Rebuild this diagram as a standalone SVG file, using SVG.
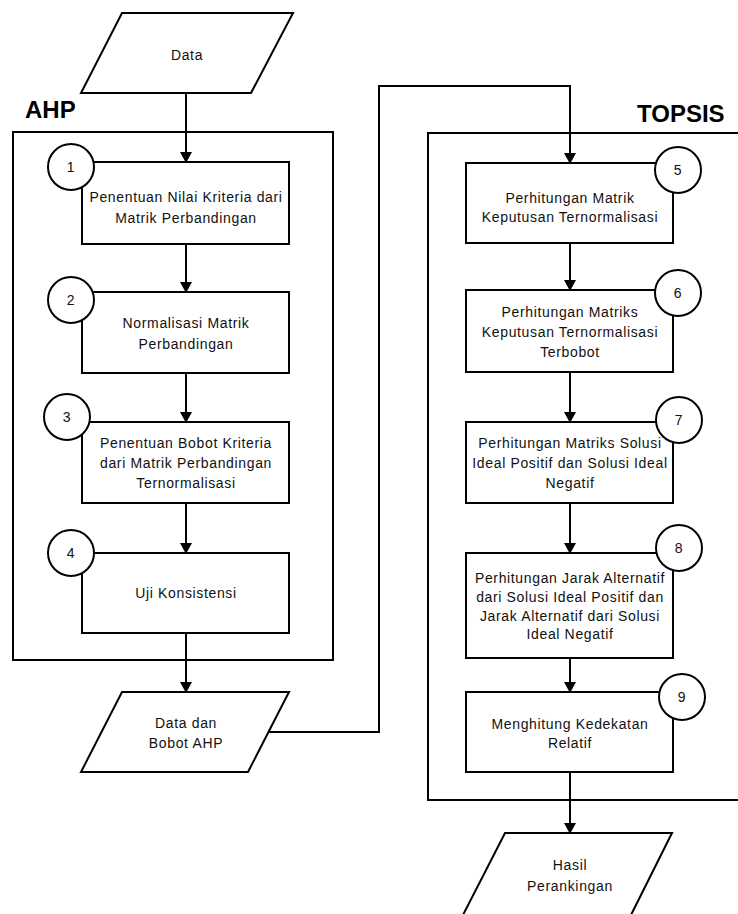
<svg xmlns="http://www.w3.org/2000/svg" width="738" height="914" viewBox="0 0 738 914">
<defs>
<marker id="arr" markerUnits="userSpaceOnUse" markerWidth="12" markerHeight="12" refX="10" refY="6" orient="auto">
<path d="M0,0 L11,6 L0,12 z" fill="#000"/>
</marker>
<style>
.s{fill:#fff;stroke:#000;stroke-width:2}
.f{fill:none;stroke:#000;stroke-width:2}
.c{fill:none;stroke:#000;stroke-width:2;marker-end:url(#arr)}
.t{font-family:"Liberation Sans",Arial,sans-serif;font-size:14px;fill:#111;text-anchor:middle;letter-spacing:0.65px}
.h{font-family:"Liberation Sans",Arial,sans-serif;font-size:24px;font-weight:bold;fill:#000}
</style>
</defs>
<rect width="738" height="914" fill="#fff"/>

<g id="ahp-group">
<rect class="f" x="13" y="132" width="320" height="528"/>
<text class="h" x="25" y="118">AHP</text>
</g>
<g id="topsis-group">
<path class="f" d="M745,133 H428 V800 H745"/>
<text class="h" x="637" y="122">TOPSIS</text>
</g>

<g id="connectors">
<path class="c" d="M186,93 V162"/>
<path class="c" d="M186,244 V292"/>
<path class="c" d="M186,373 V422"/>
<path class="c" d="M186,503 V553"/>
<path class="c" d="M186,633 V692"/>
<path class="c" d="M268,732 H379 V86 H570 V163"/>
<path class="c" d="M570,243 V290"/>
<path class="c" d="M570,372 V422"/>
<path class="c" d="M570,503 V553"/>
<path class="c" d="M570,658 V692"/>
<path class="c" d="M570,772 V833"/>
</g>

<g id="data">
<polygon class="s" points="122,13 293,13 251,93 81,93"/>
<text class="t" x="187" y="60">Data</text>
</g>

<g id="step1">
<rect class="s" x="82" y="162" width="207" height="82"/>
<circle class="s" cx="71" cy="167" r="23"/>
<text class="t" x="71" y="172">1</text>
<text class="t" x="186" y="202">Penentuan Nilai Kriteria dari</text>
<text class="t" x="186" y="223">Matrik Perbandingan</text>
</g>

<g id="step2">
<rect class="s" x="82" y="292" width="207" height="81"/>
<circle class="s" cx="71" cy="300" r="23"/>
<text class="t" x="71" y="305">2</text>
<text class="t" x="186" y="328">Normalisasi Matrik</text>
<text class="t" x="186" y="349">Perbandingan</text>
</g>

<g id="step3">
<rect class="s" x="82" y="422" width="207" height="81"/>
<circle class="s" cx="67" cy="417" r="23"/>
<text class="t" x="67" y="422">3</text>
<text class="t" x="186" y="448">Penentuan Bobot Kriteria</text>
<text class="t" x="186" y="468">dari Matrik Perbandingan</text>
<text class="t" x="186" y="488">Ternormalisasi</text>
</g>

<g id="step4">
<rect class="s" x="82" y="553" width="207" height="80"/>
<circle class="s" cx="71" cy="553" r="23"/>
<text class="t" x="71" y="558">4</text>
<text class="t" x="186" y="598">Uji Konsistensi</text>
</g>

<g id="data-bobot">
<polygon class="s" points="122,692 289,692 248,772 81,772"/>
<text class="t" x="186" y="728">Data dan</text>
<text class="t" x="186" y="748">Bobot AHP</text>
</g>

<g id="step5">
<rect class="s" x="466" y="163" width="207" height="80"/>
<circle class="s" cx="678" cy="170" r="23"/>
<text class="t" x="678" y="175">5</text>
<text class="t" x="570" y="203">Perhitungan Matrik</text>
<text class="t" x="570" y="222">Keputusan Ternormalisasi</text>
</g>

<g id="step6">
<rect class="s" x="466" y="290" width="207" height="82"/>
<circle class="s" cx="678" cy="293" r="23"/>
<text class="t" x="678" y="298">6</text>
<text class="t" x="570" y="317">Perhitungan Matriks</text>
<text class="t" x="570" y="337">Keputusan Ternormalisasi</text>
<text class="t" x="570" y="357">Terbobot</text>
</g>

<g id="step7">
<rect class="s" x="466" y="422" width="207" height="81"/>
<circle class="s" cx="679" cy="420" r="23"/>
<text class="t" x="679" y="425">7</text>
<text class="t" x="570" y="448">Perhitungan Matriks Solusi</text>
<text class="t" x="570" y="468">Ideal Positif dan Solusi Ideal</text>
<text class="t" x="570" y="488">Negatif</text>
</g>

<g id="step8">
<rect class="s" x="466" y="553" width="207" height="105"/>
<circle class="s" cx="679" cy="548" r="23"/>
<text class="t" x="679" y="553">8</text>
<text class="t" x="570" y="583">Perhitungan Jarak Alternatif</text>
<text class="t" x="570" y="602">dari Solusi Ideal Positif dan</text>
<text class="t" x="570" y="621">Jarak Alternatif dari Solusi</text>
<text class="t" x="570" y="639">Ideal Negatif</text>
</g>

<g id="step9">
<rect class="s" x="466" y="692" width="207" height="80"/>
<circle class="s" cx="682" cy="697" r="23"/>
<text class="t" x="682" y="702">9</text>
<text class="t" x="570" y="729">Menghitung Kedekatan</text>
<text class="t" x="570" y="748">Relatif</text>
</g>

<g id="hasil">
<polygon class="s" points="505,833 672,833 631,915 463,915"/>
<text class="t" x="570" y="870">Hasil</text>
<text class="t" x="570" y="891">Perankingan</text>
</g>
</svg>
